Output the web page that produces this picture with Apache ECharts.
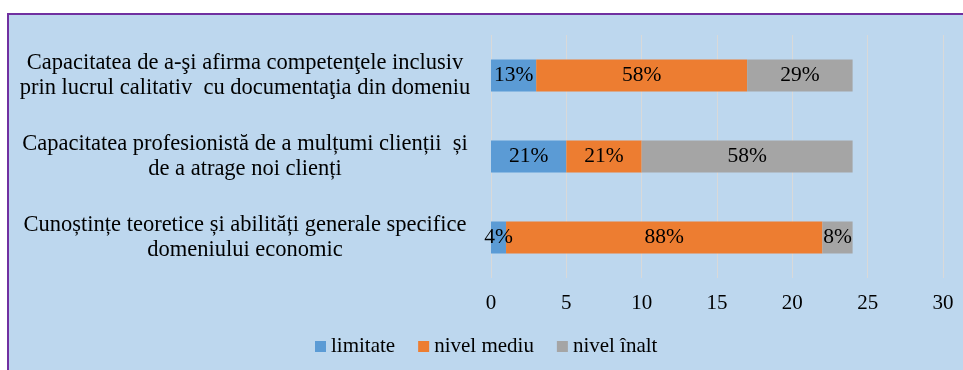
<!DOCTYPE html>
<html>
<head>
<meta charset="utf-8">
<script src="https://cdn.jsdelivr.net/npm/echarts@6/dist/echarts.min.js"></script>
<style>
  html, body { margin: 0; padding: 0; background: #ffffff; }
  #frame {
    position: absolute; left: 7px; top: 13px; width: 960px; height: 360px;
    background: #BDD7EE; border-left: 2px solid #7030A0; border-top: 2px solid #7030A0;
  }
  #chart { position: absolute; left: 0; top: 0; width: 963px; height: 370px; }
</style>
</head>
<body>
<div id="frame"></div>
<div id="chart"></div>
<script>
// Skills assessment: number of respondents per level, per competence
const categories = [
  'Cunoștințe teoretice și abilități generale specifice\ndomeniului economic',
  'Capacitatea profesionistă de a mulțumi clienții  și\nde a atrage noi clienți',
  'Capacitatea de a-şi afirma competenţele inclusiv\nprin lucrul calitativ  cu documentaţia din domeniu'
];
const seriesNames = ['limitate', 'nivel mediu', 'nivel înalt'];
const limitate = [1, 5, 3];
const nivelMediu = [21, 5, 14];
const nivelInalt = [2, 14, 7];
const colors = ['#5B9BD5', '#ED7D31', '#A5A5A5'];

const allSeries = [limitate, nivelMediu, nivelInalt];
const totals = categories.map((_, i) => allSeries.reduce((s, arr) => s + arr[i], 0));

const font = 'Liberation Serif';

const chart = echarts.init(document.getElementById('chart'));
chart.setOption({
  animation: false,
  grid: { left: 491, right: 20, top: 35, bottom: 92, outerBoundsMode: 'none', containLabel: false },
  legend: {
    data: seriesNames,
    left: 315, top: 336,
    padding: 0,
    itemWidth: 11, itemHeight: 11, itemGap: 23,
    icon: 'rect',
    textStyle: { fontFamily: font, fontSize: 21, color: '#000' }
  },
  xAxis: {
    type: 'value', min: 0, max: 30, interval: 5,
    axisLine: { show: false }, axisTick: { show: false },
    splitLine: { lineStyle: { color: '#D9D9D9', width: 1 } },
    axisLabel: { fontFamily: font, fontSize: 21, color: '#000', margin: 15 }
  },
  yAxis: {
    type: 'category',
    data: categories,
    axisLine: { show: false }, axisTick: { show: false },
    axisLabel: {
      fontFamily: font, fontSize: 22.5, color: '#000',
      align: 'center', margin: 246, lineHeight: 25, padding: [3, 0, 0, 0]
    }
  },
  series: allSeries.map((arr, k) => ({
    name: seriesNames[k],
    type: 'bar', stack: 'total', barWidth: 32,
    itemStyle: { color: colors[k] },
    label: {
      show: true, position: 'inside',
      fontFamily: font, fontSize: 21.5, color: '#000',
      formatter: p => Math.round(p.value / totals[p.dataIndex] * 100) + '%'
    },
    data: arr
  }))
});
</script>
</body>
</html>
